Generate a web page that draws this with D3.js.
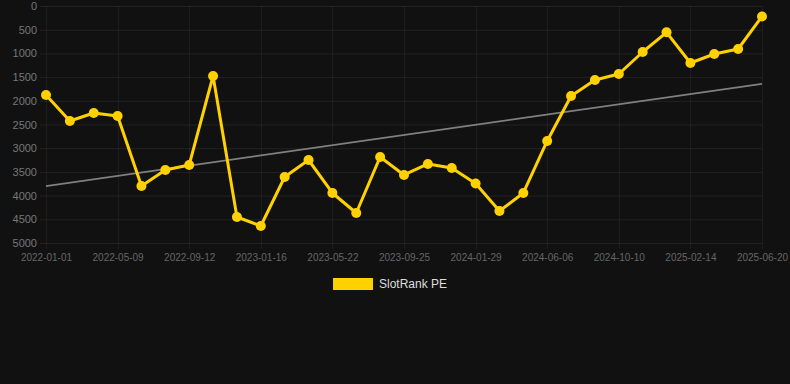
<!DOCTYPE html>
<html lang="en">
  <head>
    <meta charset="utf-8" />
    <title>SlotRank PE</title>
    <script src="https://d3js.org/d3.v7.js"></script>
    <style>
      body { margin: 0; background: #111111; }
      text { font-family: "Liberation Sans", Arial, sans-serif; }
    </style>
  </head>
  <body>
    <div id="graph"></div>
    <script>

    // chart data
    var dates = [
      "2022-01-01", "2022-02-13", "2022-03-27", "2022-05-09", "2022-06-20", "2022-08-01",
      "2022-09-12", "2022-10-24", "2022-12-05", "2023-01-16", "2023-02-27", "2023-04-10",
      "2023-05-22", "2023-07-03", "2023-08-14", "2023-09-25", "2023-11-06", "2023-12-18",
      "2024-01-29", "2024-03-12", "2024-04-24", "2024-06-06", "2024-07-18", "2024-08-29",
      "2024-10-10", "2024-11-21", "2025-01-03", "2025-02-14", "2025-03-28", "2025-05-09",
      "2025-06-20"
    ];
    var ranks = [
      1878, 2426, 2257, 2321, 3797, 3460, 3354, 1477, 4451, 4641, 3608, 3249,
      3945, 4367, 3186, 3565, 3333, 3418, 3745, 4325, 3945, 2848, 1899, 1561,
      1435, 970, 555, 1203, 1013, 907, 220
    ];
    var trendEnds = [3800, 1645];
    var yTicks = [0, 500, 1000, 1500, 2000, 2500, 3000, 3500, 4000, 4500, 5000];
    var seriesName = "SlotRank PE";

    var w = 790, h = 384;
    var margin = {top: 6, right: 28, bottom: 141, left: 46};
    var innerWidth = w - margin.left - margin.right;
    var innerHeight = h - margin.top - margin.bottom;

    var yellow = "#ffd100";

    var svg = d3.select("#graph")
      .append("svg")
        .attr("width", w)
        .attr("height", h)
        .style("background", "#111111");

    var g = svg.append("g")
      .attr("transform", `translate(${margin.left},${margin.top})`);

    // scales
    var x = d3.scalePoint()
      .domain(dates)
      .range([0, innerWidth]);

    var y = d3.scaleLinear()
      .domain([0, 5000])
      .range([0, innerHeight]);

    // grid lines
    var shownDates = dates.filter((d, i) => i % 3 === 0);

    g.append("g")
      .selectAll("line")
      .data(yTicks)
      .join("line")
        .attr("x1", -6)
        .attr("x2", innerWidth)
        .attr("y1", d => y(d) + 0.5)
        .attr("y2", d => y(d) + 0.5)
        .attr("stroke", "rgba(255,255,255,0.07)");

    g.append("g")
      .selectAll("line")
      .data(shownDates)
      .join("line")
        .attr("x1", d => Math.round(x(d)) + 0.5)
        .attr("x2", d => Math.round(x(d)) + 0.5)
        .attr("y1", 0)
        .attr("y2", innerHeight + 6)
        .attr("stroke", "rgba(255,255,255,0.05)");

    // axes
    var yAxis = g.append("g")
      .call(d3.axisLeft(y).tickValues(yTicks).tickFormat(d3.format("d")).tickSize(0).tickPadding(9));
    yAxis.select(".domain").remove();
    yAxis.selectAll("text")
      .attr("fill", "#777")
      .style("font-size", "11px");

    var xAxis = g.append("g")
      .attr("transform", `translate(0,${innerHeight})`)
      .call(d3.axisBottom(x).tickValues(shownDates).tickSize(0).tickPadding(11));
    xAxis.select(".domain").remove();
    xAxis.selectAll("text")
      .attr("fill", "#666")
      .style("font-size", "10px");

    // trend line
    g.append("line")
      .attr("x1", x(dates[0]))
      .attr("x2", x(dates[dates.length - 1]))
      .attr("y1", y(trendEnds[0]))
      .attr("y2", y(trendEnds[1]))
      .attr("stroke", "#808080")
      .attr("stroke-width", 1.8);

    // series line
    var line = d3.line()
      .x((d, i) => x(dates[i]))
      .y(d => y(d));

    g.append("path")
      .datum(ranks)
      .attr("d", line)
      .attr("fill", "none")
      .attr("stroke", yellow)
      .attr("stroke-width", 3)
      .attr("stroke-linejoin", "round");

    g.append("g")
      .selectAll("circle")
      .data(ranks)
      .join("circle")
        .attr("cx", (d, i) => x(dates[i]))
        .attr("cy", d => y(d))
        .attr("r", 5)
        .attr("fill", yellow);

    // legend
    var legend = svg.append("g")
      .attr("transform", "translate(333,278)");
    legend.append("rect")
      .attr("width", 40)
      .attr("height", 12)
      .attr("fill", yellow);
    legend.append("text")
      .attr("x", 46)
      .attr("y", 6)
      .attr("dy", "0.35em")
      .attr("fill", "#dddddd")
      .style("font-size", "12px")
      .text(seriesName);

    </script>
  </body>
</html>
